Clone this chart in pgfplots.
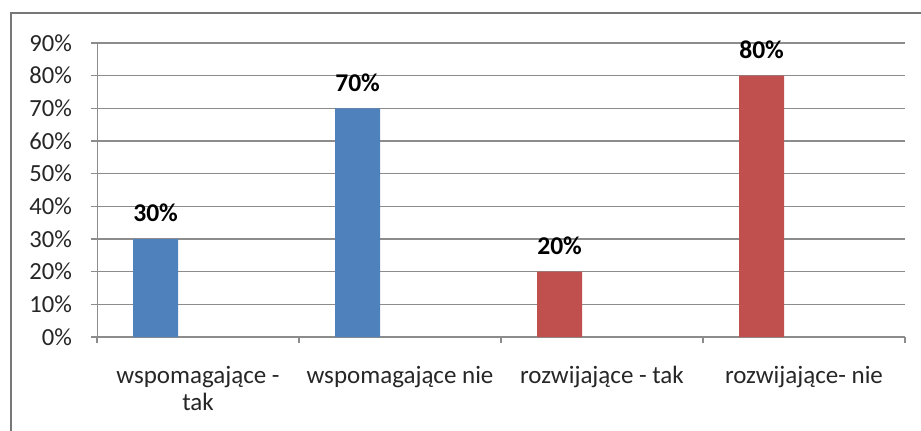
\documentclass[border=0pt]{standalone}
\usepackage{pgfplots}
\pgfplotsset{compat=1.18}
\usepackage{fontspec}
\setmainfont{Carlito}
\definecolor{xblue}{HTML}{4F81BD}
\definecolor{xred}{HTML}{C0504D}
\definecolor{xgrid}{HTML}{8C8C8C}
\begin{document}
\begin{tikzpicture}
\useasboundingbox (0pt,0pt) rectangle (460.5pt,215pt);
\draw[color=xgrid!85!black, line width=1.2pt] (5.5pt,-10pt) rectangle (470pt,208.5pt);
\begin{axis}[
  at={(48.5pt,46.5pt)}, anchor=south west,
  scale only axis, width=404pt, height=147pt,
  xmin=-0.5, xmax=3.5, ymin=0, ymax=90,
  axis line style={xgrid},
  axis x line*=bottom, axis y line*=left,
  xtick={-0.5,0.5,1.5,2.5,3.5},
  x tick label as interval,
  xticklabels={{wspomagające -\\tak},{wspomagające nie},{rozwijające - tak},{rozwijające- nie}},
  x tick label style={align=center, font=\fontsize{12.5}{13.5}\selectfont, text=black!85, yshift=-8pt},
  ytick={0,10,...,90},
  yticklabel={\pgfmathprintnumber{\tick}\%},
  y tick label style={font=\fontsize{12.3}{12}\selectfont, text=black!85, xshift=-6pt},
  /pgf/number format/assume math mode=true,
  ymajorgrids, grid style={xgrid, line width=0.6pt},
  tick style={xgrid, line width=0.6pt},
  tick align=outside, major tick length=3pt,
  bar width=0.223,
  nodes near coords={\pgfmathprintnumber{\pgfplotspointmeta}\%},
  every node near coord/.append style={font=\bfseries\fontsize{12.8}{12}\selectfont, text=black, yshift=5pt},
  clip=false,
]
\addplot[ybar, fill=xblue, draw=none] coordinates {(-0.21,30) (0.79,70)};
\addplot[ybar, fill=xred, draw=none] coordinates {(1.79,20) (2.79,80)};
\end{axis}
\end{tikzpicture}
\end{document}
